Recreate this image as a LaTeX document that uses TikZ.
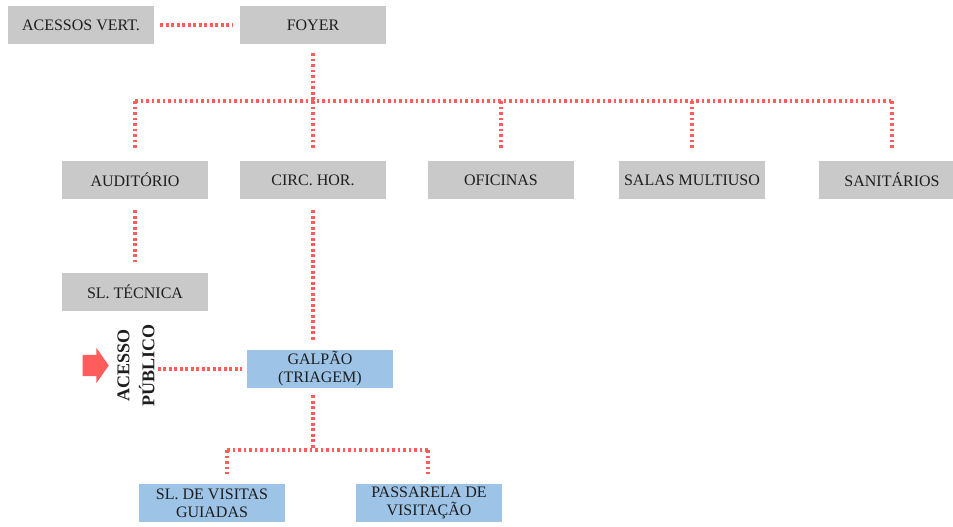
\documentclass[tikz,border=0pt]{standalone}
\usepackage{fontspec}
\setmainfont{Liberation Serif}
\usepackage{xcolor}
\usepackage{tikz}
\usetikzlibrary{calc,shapes.arrows}
\definecolor{cinza}{HTML}{C9C9C9}
\definecolor{azul}{HTML}{9DC3E6}
\definecolor{verm}{HTML}{FF5C5C}
\definecolor{texto}{HTML}{1E1E1E}
\tikzset{
	link/.style={
			draw=verm, line width=3.2pt,
			dash pattern=on 2.8pt off 2.7pt
		}
}
\tikzstyle{cx} = [fill=cinza, minimum width=146pt, minimum height=38pt, inner sep=0pt, text=texto, align=center, font=\fontsize{16}{18}\selectfont]
\tikzstyle{az} = [cx, fill=azul]

\begin{document}
\begin{tikzpicture}[x=1pt, y=-1pt]
  \useasboundingbox (0,0) rectangle (953,527);
  % Nodes
  \node[cx] (acessos)    at (81, 25)   {ACESSOS VERT.};
  \node[cx] (foyer)      at (313, 25)  {FOYER};

  \node[cx] (auditorio)  at (135, 180) {AUDITÓRIO};
  \node[cx] (circ)       at (313, 180) {CIRC. HOR.};
  \node[cx] (oficinas)   at (501, 180) {OFICINAS};
  \node[cx] (salas)      at (692, 180) {SALAS MULTIUSO};
  \node[cx] (sanitarios) at (892, 180) {SANITÁRIOS};

  \node[cx] (tecnica)    at (135, 292) {SL. TÉCNICA};
  \node[az] (galpao)     at (320, 369) {GALPÃO\\(TRIAGEM)};

  \node[az] (visitas)    at (212, 503) {SL. DE VISITAS\\GUIADAS};
  \node[az] (passarela)  at (429, 503) {PASSARELA DE\\VISITAÇÃO};

  \node[single arrow, fill=verm, inner xsep=0pt, inner ysep=10.5pt, minimum height=26pt,
        single arrow head extend=7pt, single arrow tip angle=110,
        single arrow head indent=0pt] (seta) at (92, 365.5) {};
  \node[rotate=90, align=center, inner sep=0pt, text=texto,
        font=\fontsize{18}{25}\selectfont\bfseries] (acesso) at (136, 365) {ACESSO\\PÚBLICO};

  \coordinate (b1) at (313, 101);
  \coordinate (b2) at (313, 450);
  \coordinate (v1) at (227, 450);
  \coordinate (v2) at (428, 450);

  % Lines
  \draw[link, shorten <=6pt, shorten >=8pt] (acessos) -- (foyer);
  \draw[link, shorten <=9pt] (foyer) -- (b1);
  \draw[link] (auditorio |- b1) -- (sanitarios |- b1);
  \foreach \n in {auditorio, circ, oficinas, salas, sanitarios}
    \draw[link, shorten >=11pt] (\n |- b1) -- (\n.north);

  \draw[link, shorten <=11pt, shorten >=11pt] (auditorio) -- (tecnica);
  \draw[link, shorten <=11pt, shorten >=8pt] (circ.south) -- (circ |- galpao.north);
  \draw[link, shorten <=3pt, shorten >=5pt] (acesso.south |- galpao.west) -- (galpao.west);

  \draw[link, shorten <=7pt] (b2 |- galpao.south) -- (b2);
  \draw[link] (v1) -- (v2);
  \draw[link, shorten >=10pt] (v1) -- (v1 |- visitas.north);
  \draw[link, shorten >=10pt] (v2) -- (v2 |- passarela.north);
\end{tikzpicture}
\end{document}
